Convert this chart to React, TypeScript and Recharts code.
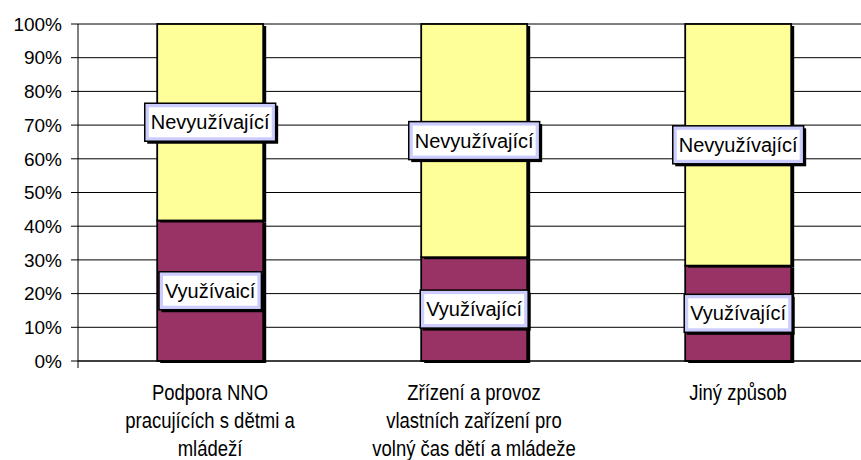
import React from "react";
import { BarChart, Bar, XAxis, YAxis, CartesianGrid, LabelList } from "recharts";

const categories = [
  "Podpora NNO\npracujících s dětmi a\nmládeží",
  "Zřízení a provoz\nvlastních zařízení pro\nvolný čas dětí a mládeže",
  "Jiný způsob",
];
const vyuzivajici = [41.7, 30.8, 28.3];
const nevyuzivajici = [58.3, 69.2, 71.7];
const lowerLabels = ["Využívaicí", "Využívající", "Využívající"];
const upperLabels = ["Nevyužívající", "Nevyužívající", "Nevyužívající"];
const yTicks = [0, 10, 20, 30, 40, 50, 60, 70, 80, 90, 100];

const data = categories.map((name, i) => ({
  name,
  vyuz: vyuzivajici[i],
  nevyuz: nevyuzivajici[i],
  lowLabel: lowerLabels[i],
  upLabel: upperLabels[i],
}));

const FONT = "'Liberation Sans', Arial, sans-serif";

let ctx: CanvasRenderingContext2D | null = null;
function measure(text: string, size: number): number {
  if (!ctx) {
    const c = document.createElement("canvas");
    ctx = c.getContext("2d");
  }
  if (!ctx) return text.length * size * 0.5;
  ctx.font = `${size}px 'Liberation Sans', Arial, sans-serif`;
  return ctx.measureText(text).width;
}

const ShadowBar = (props: any) => {
  const { x, y, width, height, fill } = props;
  if (!width || !height) return null;
  return (
    <g>
      <rect x={x + 3} y={y + 2} width={width} height={height} fill="#000" />
      <rect x={x} y={y} width={width} height={height} fill={fill} stroke="#000" strokeWidth={1.8} />
    </g>
  );
};

const BoxLabel = (props: any) => {
  const vb = props.viewBox && props.viewBox.width !== undefined ? props.viewBox : props;
  const x = Number(vb.x);
  const y = Number(vb.y);
  const w = Number(vb.width);
  const h = Number(vb.height);
  const text = String(props.value);
  const cx = x + w / 2;
  const cy = y + h / 2;
  const tw = measure(text, 20);
  const bw = tw + 12;
  const bh = 38;
  const bx = cx - bw / 2;
  const by = cy - bh / 2;
  return (
    <g>
      <rect x={bx + 2.5} y={by + 2.5} width={bw} height={bh} fill="#000" />
      <rect x={bx} y={by} width={bw} height={bh} fill="#CCCCFF" stroke="#000" strokeWidth={1.5} />
      <rect x={bx + 4} y={by + 4} width={bw - 8} height={bh - 8} fill="#fff" />
      <text x={cx} y={cy} dy="0.35em" textAnchor="middle" fontSize={20} fontFamily={FONT} fill="#000">
        {text}
      </text>
    </g>
  );
};

const XTick = (props: any) => {
  const { x, y, payload, index } = props;
  const lines = String(payload.value).split("\n");
  return (
    <g>
      {index === 0 && <line x1={78} y1={y} x2={78} y2={y + 7} stroke="#000" strokeWidth={1} />}
      {lines.map((ln, i) => (
        <text
          key={i}
          x={x}
          y={y + 39 + i * 28}
          textAnchor="middle"
          fontSize={22}
          fontFamily={FONT}
          fill="#000"
          textLength={measure(ln, 22) * 0.84}
          lengthAdjust="spacingAndGlyphs"
        >
          {ln}
        </text>
      ))}
    </g>
  );
};

export default function App() {
  return (
    <div
      style={{
        position: "absolute",
        left: 0,
        top: 0,
        width: 861,
        height: 460,
        overflow: "hidden",
        background: "#fff",
      }}
    >
      <BarChart
        width={880}
        height={460}
        data={data}
        margin={{ top: 24, right: 10, bottom: 0, left: 0 }}
        barCategoryGap="30%"
      >
        <CartesianGrid vertical={false} stroke="#000" strokeWidth={1} />
        <XAxis
          dataKey="name"
          interval={0}
          height={99}
          axisLine={{ stroke: "#000", strokeWidth: 1 }}
          tickLine={false}
          tickSize={0}
          tickMargin={0}
          tick={<XTick />}
        />
        <YAxis
          width={78}
          domain={[0, 100]}
          ticks={yTicks}
          tickFormatter={(v: number) => `${v}%`}
          axisLine={{ stroke: "#000", strokeWidth: 1 }}
          tickLine={{ stroke: "#000", strokeWidth: 1 }}
          tickSize={7}
          tickMargin={9}
          tick={{ fontSize: 19, fontFamily: FONT, fill: "#000" }}
        />
        <Bar dataKey="vyuz" stackId="a" fill="#993366" shape={<ShadowBar />} isAnimationActive={false}>
          <LabelList dataKey="lowLabel" content={<BoxLabel />} />
        </Bar>
        <Bar dataKey="nevyuz" stackId="a" fill="#FFFF99" shape={<ShadowBar />} isAnimationActive={false}>
          <LabelList dataKey="upLabel" content={<BoxLabel />} />
        </Bar>
      </BarChart>
    </div>
  );
}
